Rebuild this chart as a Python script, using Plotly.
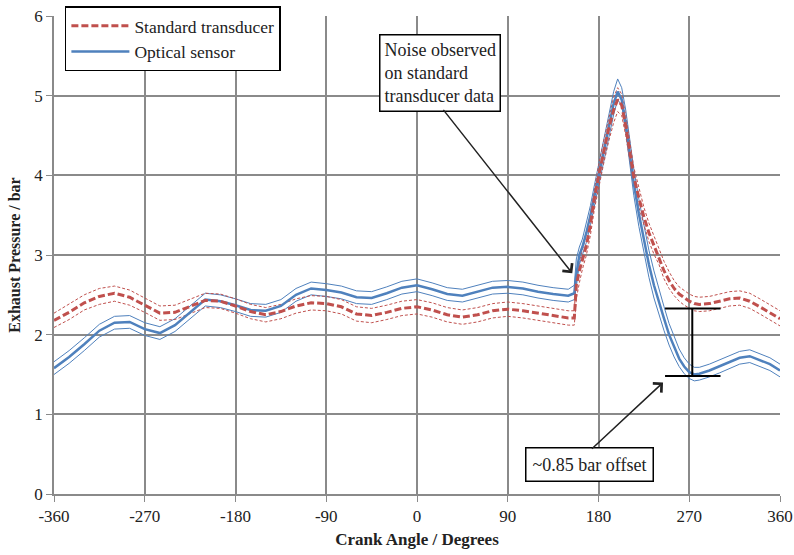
import plotly.graph_objects as go

# Crank angle (degrees)
crank_angle = [-360, -345, -330, -315, -300, -285, -270, -255, -240, -225, -210, -195,
               -180, -165, -150, -135, -120, -105, -90, -75, -60, -45, -30, -15,
               0, 15, 30, 45, 60, 75, 90, 105, 120, 135, 150, 156, 158, 161, 164, 168,
               172, 176, 180, 185, 190, 195, 199, 203, 207, 211, 215, 220, 225, 230,
               235, 240, 245, 250, 255, 260, 265, 270, 275, 280, 290, 300, 310, 320,
               330, 340, 350, 360]

# Standard transducer (bar): mean and upper/lower traces
std_mean = [2.18, 2.28, 2.40, 2.48, 2.52, 2.47, 2.37, 2.27, 2.28, 2.36, 2.43, 2.42,
            2.36, 2.29, 2.25, 2.29, 2.36, 2.40, 2.39, 2.35, 2.26, 2.24, 2.28, 2.33,
            2.35, 2.31, 2.25, 2.22, 2.25, 2.30, 2.32, 2.30, 2.27, 2.24, 2.21, 2.21, 2.62, 2.80, 2.95, 3.12,
            3.38, 3.72, 3.98, 4.28, 4.58, 4.82, 4.95, 4.88, 4.62, 4.30, 3.98, 3.72, 3.48, 3.28,
            3.12, 2.98, 2.80, 2.68, 2.58, 2.51, 2.46, 2.42, 2.39, 2.38, 2.39, 2.42, 2.45, 2.46,
            2.42, 2.35, 2.28, 2.20]
std_upper = [2.27, 2.38, 2.50, 2.58, 2.61, 2.56, 2.46, 2.36, 2.37, 2.45, 2.52, 2.51,
             2.45, 2.38, 2.34, 2.38, 2.45, 2.49, 2.48, 2.44, 2.35, 2.33, 2.37, 2.42,
             2.44, 2.40, 2.34, 2.31, 2.34, 2.39, 2.41, 2.39, 2.36, 2.33, 2.30, 2.30, 2.75, 2.92, 3.05, 3.25,
             3.52, 3.85, 4.12, 4.42, 4.72, 4.98, 5.10, 5.02, 4.75, 4.42, 4.10, 3.85, 3.60, 3.40,
             3.24, 3.08, 2.92, 2.79, 2.68, 2.60, 2.55, 2.51, 2.48, 2.47, 2.48, 2.51, 2.54, 2.55,
             2.52, 2.45, 2.38, 2.30]
std_lower = [2.09, 2.19, 2.31, 2.38, 2.42, 2.37, 2.28, 2.18, 2.19, 2.27, 2.34, 2.33,
             2.27, 2.20, 2.16, 2.20, 2.27, 2.31, 2.30, 2.26, 2.17, 2.15, 2.19, 2.24,
             2.26, 2.22, 2.16, 2.13, 2.16, 2.21, 2.23, 2.21, 2.18, 2.15, 2.12, 2.12, 2.45, 2.65, 2.82, 3.00,
             3.25, 3.58, 3.85, 4.14, 4.42, 4.66, 4.80, 4.75, 4.50, 4.18, 3.88, 3.60, 3.37, 3.17,
             3.01, 2.88, 2.70, 2.58, 2.49, 2.42, 2.37, 2.33, 2.30, 2.29, 2.30, 2.33, 2.36, 2.37,
             2.33, 2.26, 2.19, 2.11]

# Optical sensor (bar): mean and upper/lower traces
opt_mean = [1.58, 1.72, 1.88, 2.05, 2.15, 2.16, 2.07, 2.02, 2.12, 2.28, 2.44, 2.42,
            2.37, 2.31, 2.30, 2.36, 2.50, 2.58, 2.56, 2.53, 2.47, 2.46, 2.52, 2.59,
            2.62, 2.57, 2.51, 2.49, 2.54, 2.59, 2.60, 2.58, 2.54, 2.51, 2.49, 2.52, 2.75, 3.00, 3.10, 3.28,
            3.50, 3.75, 4.00, 4.32, 4.62, 4.90, 5.05, 4.95, 4.65, 4.25, 3.90, 3.52, 3.18, 2.88,
            2.62, 2.40, 2.20, 2.00, 1.84, 1.70, 1.60, 1.53, 1.50, 1.51, 1.55, 1.60, 1.65, 1.71,
            1.73, 1.68, 1.63, 1.55]
opt_upper = [1.66, 1.80, 1.96, 2.13, 2.23, 2.24, 2.15, 2.10, 2.20, 2.36, 2.52, 2.50,
             2.45, 2.39, 2.38, 2.44, 2.58, 2.66, 2.64, 2.61, 2.55, 2.54, 2.60, 2.67,
             2.70, 2.65, 2.59, 2.57, 2.62, 2.67, 2.68, 2.66, 2.62, 2.59, 2.57, 2.62, 2.95, 3.10, 3.20, 3.40,
             3.62, 3.88, 4.12, 4.45, 4.76, 5.05, 5.21, 5.10, 4.82, 4.42, 4.08, 3.70, 3.36, 3.06,
             2.80, 2.56, 2.35, 2.14, 1.97, 1.82, 1.71, 1.63, 1.59, 1.59, 1.63, 1.68, 1.73, 1.79,
             1.81, 1.76, 1.71, 1.63]
opt_lower = [1.50, 1.64, 1.80, 1.97, 2.07, 2.08, 1.99, 1.94, 2.04, 2.20, 2.36, 2.34,
             2.29, 2.23, 2.22, 2.28, 2.42, 2.50, 2.48, 2.45, 2.39, 2.38, 2.44, 2.51,
             2.54, 2.49, 2.43, 2.41, 2.46, 2.51, 2.52, 2.50, 2.46, 2.43, 2.41, 2.44, 2.60, 2.88, 3.00, 3.16,
             3.38, 3.62, 3.88, 4.18, 4.48, 4.76, 4.95, 4.88, 4.55, 4.12, 3.75, 3.36, 3.02, 2.72,
             2.46, 2.25, 2.05, 1.87, 1.72, 1.60, 1.51, 1.45, 1.42, 1.43, 1.47, 1.52, 1.57, 1.63,
             1.65, 1.60, 1.55, 1.47]

x_ticks = [-360, -270, -180, -90, 0, 90, 180, 270, 360]
y_ticks = [0, 1, 2, 3, 4, 5, 6]

# Offset marker (deg, bar)
offset_top = 2.33
offset_bottom = 1.48
offset_x = 273
offset_x0, offset_x1 = 246, 301

RED = "#C0504D"
BLUE = "#4F81BD"
FONT = "Liberation Serif, Times New Roman, serif"
TXT = "#222"

fig = go.Figure()

fig.add_trace(go.Scatter(x=crank_angle, y=opt_upper, mode="lines", showlegend=False,
                         line=dict(color=BLUE, width=1), hoverinfo="skip"))
fig.add_trace(go.Scatter(x=crank_angle, y=opt_lower, mode="lines", showlegend=False,
                         line=dict(color=BLUE, width=1), hoverinfo="skip"))
fig.add_trace(go.Scatter(x=crank_angle, y=std_upper, mode="lines", showlegend=False,
                         line=dict(color=RED, width=1, dash="3px,2px"), hoverinfo="skip"))
fig.add_trace(go.Scatter(x=crank_angle, y=std_lower, mode="lines", showlegend=False,
                         line=dict(color=RED, width=1, dash="3px,2px"), hoverinfo="skip"))
fig.add_trace(go.Scatter(x=crank_angle, y=opt_mean, mode="lines", name="Optical sensor",
                         legendrank=2, line=dict(color=BLUE, width=2.5)))
fig.add_trace(go.Scatter(x=crank_angle, y=std_mean, mode="lines", name="Standard transducer",
                         legendrank=1, line=dict(color=RED, width=3, dash="7px,3px")))

# Offset marker
line_style = dict(color="black", width=2)
fig.add_shape(type="line", x0=offset_x, x1=offset_x, y0=offset_bottom, y1=offset_top,
              xref="x", yref="y", line=line_style)
fig.add_shape(type="line", x0=offset_x0, x1=offset_x1, y0=offset_top, y1=offset_top,
              xref="x", yref="y", line=line_style)
fig.add_shape(type="line", x0=offset_x0, x1=offset_x1, y0=offset_bottom, y1=offset_bottom,
              xref="x", yref="y", line=line_style)

# Annotations
fig.add_annotation(x=23, y=5.28, xref="x", yref="y", showarrow=False,
                   text="Noise observed<br>on standard<br>transducer data", align="left",
                   font=dict(family=FONT, size=18, color=TXT),
                   bgcolor="white", bordercolor="black", borderwidth=1.5, borderpad=4)
fig.add_annotation(x=154, y=2.77, ax=25, ay=4.84, axref="x", ayref="y", xref="x", yref="y",
                   text="", showarrow=True, arrowhead=4, arrowsize=1.6, arrowwidth=1.5,
                   arrowcolor=TXT)
fig.add_annotation(x=171, y=0.37, xref="x", yref="y", showarrow=False,
                   text="~0.85 bar offset", align="center",
                   font=dict(family=FONT, size=18, color=TXT),
                   bgcolor="white", bordercolor="black", borderwidth=1.5, borderpad=6)
fig.add_annotation(x=244, y=1.40, ax=172, ay=0.55, axref="x", ayref="y", xref="x", yref="y",
                   text="", showarrow=True, arrowhead=4, arrowsize=1.6, arrowwidth=1.5,
                   arrowcolor=TXT)

fig.update_layout(
    width=794, height=555,
    margin=dict(l=54, r=14, t=16, b=61, autoexpand=False),
    paper_bgcolor="white", plot_bgcolor="white",
    font=dict(family=FONT, size=17, color=TXT),
    legend=dict(x=0.015, y=1.02, xanchor="left", yanchor="top",
                bgcolor="white", bordercolor="black", borderwidth=1.5,
                font=dict(family=FONT, size=17.5, color=TXT),
                tracegroupgap=0, itemwidth=58),
    xaxis=dict(range=[-360, 360], tickvals=x_ticks, ticktext=[str(v) for v in x_ticks],
               showgrid=True, gridcolor="#8a8a8a", gridwidth=1.5,
               showline=True, linecolor="#8a8a8a", linewidth=1.5,
               ticks="outside", ticklen=6, tickcolor="#8a8a8a", zeroline=False,
               automargin=False,
               tickfont=dict(family=FONT, size=17, color=TXT),
               title=dict(text="<b>Crank Angle / Degrees</b>", standoff=8,
                          font=dict(family=FONT, size=17, color=TXT))),
    yaxis=dict(range=[0, 6], tickvals=y_ticks,
               showgrid=True, gridcolor="#8a8a8a", gridwidth=1.5,
               showline=True, linecolor="#8a8a8a", linewidth=1.5,
               ticks="outside", ticklen=6, tickcolor="#8a8a8a", zeroline=False,
               automargin=False,
               tickfont=dict(family=FONT, size=17, color=TXT),
               title=dict(text="<b>Exhaust Pressure / bar</b>", standoff=10,
                          font=dict(family=FONT, size=16, color=TXT))),
)

fig.write_html("out.html")
